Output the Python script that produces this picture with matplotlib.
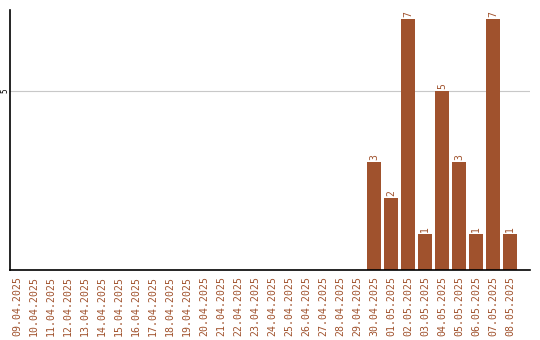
import matplotlib
matplotlib.use('Agg')
import matplotlib.pyplot as plt
import numpy as np

dates = ['09.04.2025', '10.04.2025', '11.04.2025', '12.04.2025', '13.04.2025',
         '14.04.2025', '15.04.2025', '16.04.2025', '17.04.2025', '18.04.2025',
         '19.04.2025', '20.04.2025', '21.04.2025', '22.04.2025', '23.04.2025',
         '24.04.2025', '25.04.2025', '26.04.2025', '27.04.2025', '28.04.2025',
         '29.04.2025', '30.04.2025', '01.05.2025', '02.05.2025', '03.05.2025',
         '04.05.2025', '05.05.2025', '06.05.2025', '07.05.2025', '08.05.2025']
counts = [0] * 21 + [3, 2, 7, 1, 5, 3, 1, 7, 1]

BROWN = '#A0522D'
plt.rcParams['font.family'] = 'DejaVu Sans Mono'

fig = plt.figure(figsize=(5.4, 3.4), dpi=100)
ax = fig.add_axes([0.0194, 0.206, 0.9626, 0.765])

x = np.arange(len(dates))
ax.bar(x, counts, width=0.82, color=BROWN, zorder=2)
for xi, v in zip(x, counts):
    if v > 0:
        ax.text(xi, v + 0.06, str(v), rotation=90, ha='center', va='bottom',
                fontsize=7, color=BROWN)

ax.set_xlim(-0.38, 30.2)
ax.set_ylim(0, 7.26)
ax.set_xticks(x)
ax.set_xticklabels(dates, rotation=90, fontsize=7.1, color=BROWN)
ax.set_yticks([5])
ax.set_yticklabels(['5'], rotation=90, va='center', fontsize=5.5)
ax.tick_params(axis='x', length=0, pad=4)
ax.tick_params(axis='y', length=0, pad=1)
ax.yaxis.grid(True, color='#c8c8c8', linewidth=0.8, zorder=0)
ax.set_axisbelow(True)
for s in ['top', 'right']:
    ax.spines[s].set_visible(False)
ax.spines['left'].set_linewidth(1.2)
ax.spines['bottom'].set_linewidth(1.2)

fig.savefig('out.png', dpi=100)
